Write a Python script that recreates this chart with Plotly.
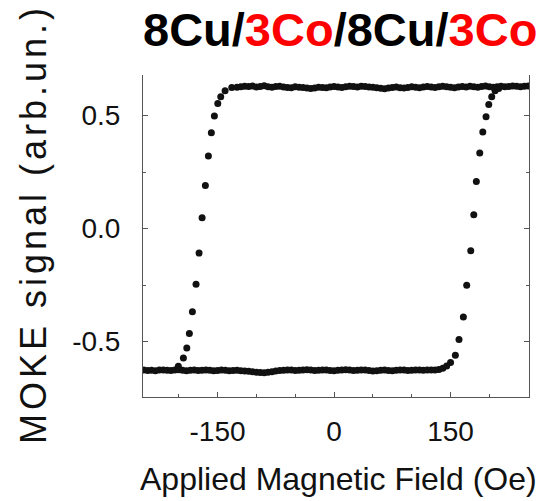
import plotly.graph_objects as go

# MOKE hysteresis loop of an 8Cu/3Co/8Cu/3Co stack
# Field in Oe, signal in arbitrary units

# Saturated upper level (reached after switching at negative field)
upper_field = [-125, -120, -115, -110, -105, -100, -95, -90, -85, -80, -75, -70, -65,
               -60, -55, -50, -45, -40, -35, -30, -25, -20, -15, -10, -5, 0, 5, 10,
               15, 20, 25, 30, 35, 40, 45, 50, 55, 60, 65, 70, 75, 80, 85, 90, 95,
               100, 105, 110, 115, 120, 125, 130, 135, 140, 145, 150, 155, 160, 165,
               170, 175, 180, 185, 190, 195, 200, 205, 210, 215, 220, 225, 230, 235,
               240, 245, 250]
upper_signal = [0.626, 0.628, 0.630, 0.629, 0.631, 0.627, 0.629, 0.632, 0.628, 0.626,
                0.629, 0.630, 0.627, 0.625, 0.624, 0.628, 0.626, 0.625, 0.622, 0.620,
                0.623, 0.626, 0.625, 0.624, 0.627, 0.629, 0.627, 0.625, 0.628, 0.630,
                0.629, 0.627, 0.630, 0.629, 0.627, 0.626, 0.624, 0.621, 0.619, 0.622,
                0.625, 0.627, 0.624, 0.622, 0.625, 0.628, 0.626, 0.624, 0.627, 0.629,
                0.627, 0.625, 0.628, 0.630, 0.628, 0.626, 0.624, 0.627, 0.629, 0.627,
                0.630, 0.628, 0.626, 0.629, 0.631, 0.628, 0.626, 0.628, 0.630, 0.628,
                0.629, 0.631, 0.630, 0.628, 0.630, 0.631]

# Switching from the lower to the upper level at negative field
left_switch_field = [-200.5, -194.0, -189.6, -186.3, -182.4, -177.7, -173.8, -169.9,
                     -165.7, -161.8, -158.0, -154.1, -149.7, -145.9, -140.3, -131.7]
left_switch_signal = [-0.609, -0.572, -0.528, -0.464, -0.368, -0.246, -0.108, 0.048,
                      0.191, 0.321, 0.424, 0.499, 0.554, 0.584, 0.610, 0.625]

# Saturated lower level
lower_field = [-245, -240, -235, -230, -225, -220, -215, -210, -205, -200, -195, -190,
               -185, -180, -175, -170, -165, -160, -155, -150, -145, -140, -135, -130,
               -125, -120, -115, -110, -105, -100, -95, -90, -85, -80, -75, -70, -65,
               -60, -55, -50, -45, -40, -35, -30, -25, -20, -15, -10, -5, 0, 5, 10, 15,
               20, 25, 30, 35, 40, 45, 50, 55, 60, 65, 70, 75, 80, 85, 90, 95, 100,
               105, 110, 115, 120, 125, 130, 135, 140, 145, 150]
lower_signal = [-0.626, -0.628, -0.627, -0.629, -0.626, -0.625, -0.627, -0.628, -0.626,
                -0.624, -0.627, -0.629, -0.627, -0.626, -0.628, -0.627, -0.625, -0.627,
                -0.629, -0.628, -0.626, -0.627, -0.629, -0.628, -0.627, -0.629, -0.630,
                -0.631, -0.633, -0.635, -0.637, -0.638, -0.636, -0.633, -0.630, -0.628,
                -0.627, -0.625, -0.626, -0.628, -0.627, -0.625, -0.624, -0.626, -0.628,
                -0.627, -0.625, -0.626, -0.628, -0.629, -0.627, -0.625, -0.624, -0.626,
                -0.628, -0.627, -0.625, -0.626, -0.628, -0.630, -0.629, -0.627, -0.626,
                -0.628, -0.629, -0.627, -0.625, -0.626, -0.628, -0.627, -0.625, -0.626,
                -0.627, -0.626, -0.625, -0.625, -0.623, -0.618, -0.608, -0.592]

# Switching from the lower to the upper level at positive field
right_switch_field = [156.2, 160.9, 166.5, 170.8, 176.0, 179.9, 183.2, 187.6, 191.5,
                      195.7, 199.2, 203.0, 207.3, 212.0]
right_switch_signal = [-0.560, -0.490, -0.391, -0.250, -0.098, 0.062, 0.209, 0.335,
                       0.428, 0.495, 0.550, 0.584, 0.610, 0.620]

x_tick_vals = [-150, 0, 150]
x_tick_text = ["-150", "0", "150"]
y_tick_vals = [-0.5, 0.0, 0.5]
y_tick_text = ["-0.5", "0.0", "0.5"]

FONT = "Liberation Sans, Arial, sans-serif"
INK = "#111111"
AXIS = "#555555"

marker = dict(size=7, color=INK, line=dict(width=0))

fig = go.Figure()
fig.add_trace(go.Scatter(x=lower_field + right_switch_field,
                         y=lower_signal + right_switch_signal,
                         mode="markers", marker=marker, name="increasing field",
                         showlegend=False))
fig.add_trace(go.Scatter(x=left_switch_field + upper_field,
                         y=left_switch_signal + upper_signal,
                         mode="markers", marker=marker, name="decreasing field",
                         showlegend=False))

fig.update_layout(
    width=544, height=501,
    margin=dict(l=143, r=15, t=75, b=104),
    paper_bgcolor="white", plot_bgcolor="white",
    font=dict(family=FONT, color=INK),
    xaxis=dict(range=[-246, 251], showline=True, linecolor=AXIS, linewidth=1,
               ticks="inside", ticklen=5, tickcolor=AXIS,
               tickvals=x_tick_vals, ticktext=x_tick_text,
               minor=dict(ticks="inside", dtick=50, ticklen=3, tickcolor=AXIS),
               showgrid=False, zeroline=False,
               tickfont=dict(family=FONT, size=28, color=INK),
               ticklabelstandoff=9),
    yaxis=dict(range=[-0.745, 0.68], showline=True, linecolor=AXIS, linewidth=1,
               mirror="ticks",
               ticks="inside", ticklen=5, tickcolor=AXIS,
               tickvals=y_tick_vals, ticktext=y_tick_text,
               minor=dict(ticks="inside", dtick=0.25, ticklen=3, tickcolor=AXIS),
               showgrid=False, zeroline=False,
               tickfont=dict(family=FONT, size=28, color=INK),
               ticklabelstandoff=16),
    annotations=[
        dict(text="<b>8Cu/<span style='color:#ff0000'>3Co</span>/8Cu/"
                  "<span style='color:#ff0000'>3Co</span></b>",
             xref="paper", yref="paper", x=0.51, y=1, yshift=46,
             xanchor="center", yanchor="middle", showarrow=False,
             font=dict(family=FONT, size=47, color="black")),
        dict(text="<span style='letter-spacing:4px'>MOKE signal (arb.un.)</span>",
             xref="paper", yref="paper", x=-0.285, y=0.537, textangle=-90,
             xanchor="center", yanchor="middle", showarrow=False,
             font=dict(family=FONT, size=36, color=INK)),
        dict(text="Applied Magnetic Field (Oe)",
             xref="paper", yref="paper", x=0.506, y=-0.255,
             xanchor="center", yanchor="middle", showarrow=False,
             font=dict(family=FONT, size=32, color=INK)),
    ],
)

fig.write_html("out.html")
